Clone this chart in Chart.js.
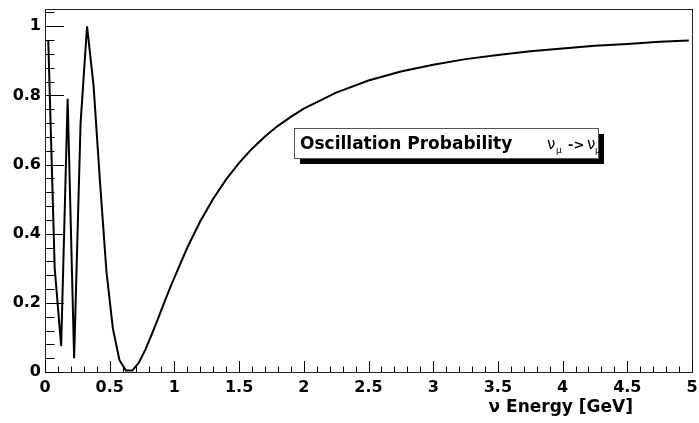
<!DOCTYPE html>
<html>
<head>
<meta charset="utf-8">
<title>Oscillation Probability</title>
<script src="https://cdn.jsdelivr.net/npm/chart.js@4.4.0/dist/chart.umd.min.js"></script>
<style>
  body { margin: 0; background: #fff; }
  canvas { display: block; }
</style>
</head>
<body>
<canvas id="myChart" width="699" height="423"></canvas>
<script>
//////////////////////
// data
//////////////////////

const energies = [0.025, 0.075, 0.125, 0.175, 0.225, 0.275, 0.325, 0.375, 0.425, 0.475,
  0.525, 0.575, 0.625, 0.675, 0.725, 0.775, 0.825, 0.875, 0.925, 0.975,
  1.1, 1.2, 1.3, 1.4, 1.5, 1.6, 1.7, 1.8, 1.9, 2.0,
  2.25, 2.5, 2.75, 3.0, 3.25, 3.5, 3.75, 4.0, 4.25, 4.5, 4.75, 4.975];
const probabilities = [0.96, 0.30, 0.075, 0.79, 0.04, 0.72, 1.0, 0.83, 0.55, 0.29,
  0.125, 0.035, 0.004, 0.004, 0.027, 0.064, 0.109, 0.156, 0.204, 0.251,
  0.36, 0.436, 0.501, 0.557, 0.605, 0.646, 0.681, 0.712, 0.738, 0.762,
  0.808, 0.843, 0.869, 0.889, 0.905, 0.917, 0.928, 0.936, 0.944, 0.949, 0.955, 0.959];

const xTicks = [0, 0.5, 1, 1.5, 2, 2.5, 3, 3.5, 4, 4.5, 5];
const yTicks = [0, 0.2, 0.4, 0.6, 0.8, 1];
const xTitle = '\u03bd Energy [GeV]';
const boxTitle = 'Oscillation Probability';

//////////////////////
// drawing helpers
//////////////////////

const fontFamily = '"DejaVu Sans", sans-serif';

// ROOT style frame with the ticks inside the frame
const frameAndTicks = {
  id: 'frameAndTicks',
  afterDraw(chart) {
    const ctx = chart.ctx;
    const area = chart.chartArea;
    const xScale = chart.scales.x;
    const yScale = chart.scales.y;

    ctx.save();
    ctx.strokeStyle = '#222';
    ctx.lineWidth = 1;
    ctx.strokeRect(area.left + 0.5, area.top + 0.5, area.right - area.left, area.bottom - area.top);

    ctx.strokeStyle = '#000';
    ctx.beginPath();
    // y ticks, 5 divisions between labels
    for (let i = 0; i <= 26; i++) {
      const v = i * 0.04;
      const py = Math.round(yScale.getPixelForValue(v)) + 0.5;
      const len = (i % 5 === 0) ? 19 : 9.5;
      ctx.moveTo(area.left, py);
      ctx.lineTo(area.left + len, py);
    }
    // x ticks, 5 divisions between labels
    for (let i = 0; i <= 50; i++) {
      const v = i * 0.1;
      const px = Math.round(xScale.getPixelForValue(v)) + 0.5;
      const len = (i % 5 === 0) ? 11 : 5.5;
      ctx.moveTo(px, area.bottom);
      ctx.lineTo(px, area.bottom - len);
    }
    ctx.stroke();

    // x axis title
    ctx.fillStyle = '#000';
    ctx.font = 'bold 17px ' + fontFamily;
    ctx.textAlign = 'right';
    ctx.textBaseline = 'alphabetic';
    ctx.fillText(xTitle, 633, 412);

    // text box with shadow
    ctx.fillStyle = '#000';
    ctx.fillRect(300, 134, 304, 30);
    ctx.fillStyle = '#fff';
    ctx.fillRect(294, 128, 304, 30);
    ctx.strokeStyle = '#555';
    ctx.strokeRect(294.5, 128.5, 304, 30);

    ctx.fillStyle = '#000';
    ctx.textAlign = 'left';
    ctx.font = 'bold 17px ' + fontFamily;
    ctx.fillText(boxTitle, 300, 149);
    ctx.font = '15px ' + fontFamily;
    ctx.fillText('\u03bd', 547, 149);
    ctx.fillText('\u03bd', 587, 149);
    ctx.font = '9px ' + fontFamily;
    ctx.fillText('\u03bc', 556, 153);
    ctx.fillText('\u03bc', 595, 153);
    ctx.font = 'bold 13px ' + fontFamily;
    ctx.fillText('->', 568, 149);
    ctx.restore();
  }
};

function renderChart() {
  const points = [];
  for (let i = 0; i < energies.length; i++) {
    points.push({ x: energies[i], y: probabilities[i] });
  }

  const data = {
    datasets: [{
      data: points,
      borderColor: '#000',
      borderWidth: 2,
      pointRadius: 0,
      tension: 0,
      fill: false
    }]
  };

  const tickFont = { family: fontFamily, size: 16, weight: 'bold' };

  const config = {
    type: 'line',
    data: data,
    options: {
      responsive: false,
      animation: false,
      layout: { padding: { left: 0, right: 7, top: 9, bottom: 0 } },
      plugins: {
        legend: { display: false },
        tooltip: { enabled: false }
      },
      scales: {
        x: {
          type: 'linear',
          min: 0,
          max: 5,
          grid: { display: false, drawTicks: false },
          border: { display: false },
          afterBuildTicks: (scale) => { scale.ticks = xTicks.map(v => ({ value: v })); },
          afterFit: (scale) => { scale.height = 51; scale.paddingLeft = 0; scale.paddingRight = 0; },
          ticks: {
            font: tickFont,
            color: '#000',
            padding: 6,
            maxRotation: 0,
            autoSkip: false,
            callback: (v) => String(v)
          }
        },
        y: {
          min: 0,
          max: 1.05,
          grid: { display: false, drawTicks: false },
          border: { display: false },
          afterBuildTicks: (scale) => { scale.ticks = yTicks.map(v => ({ value: v })); },
          afterFit: (scale) => { scale.width = 45; scale.paddingTop = 0; scale.paddingBottom = 0; },
          ticks: {
            font: tickFont,
            color: '#000',
            padding: 4,
            autoSkip: false,
            callback: (v) => String(v)
          }
        }
      }
    },
    plugins: [frameAndTicks]
  };

  const canvasChart = document.getElementById('myChart');
  new Chart(canvasChart, config);
}

renderChart();
</script>
</body>
</html>
